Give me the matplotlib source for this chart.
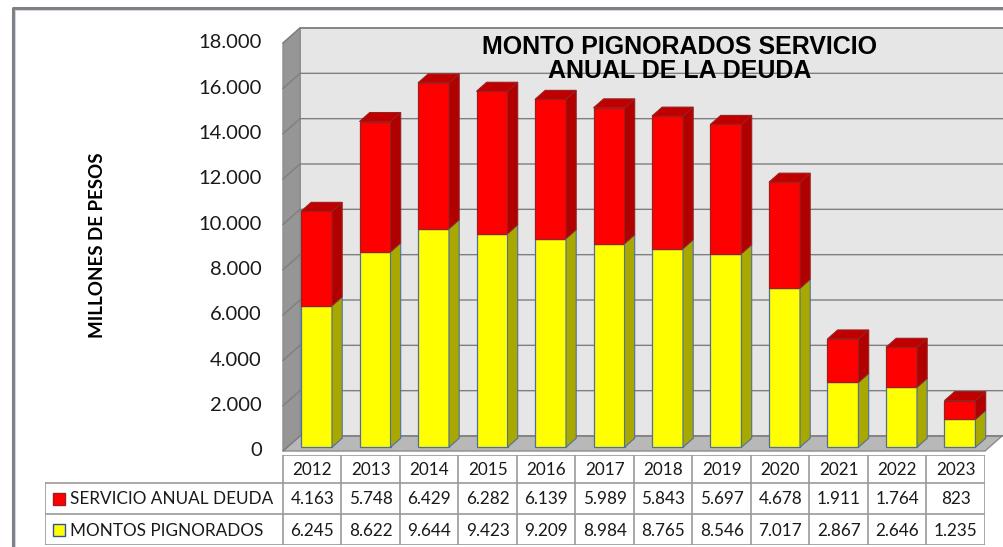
import numpy as np
import matplotlib
matplotlib.use("Agg")
import matplotlib.pyplot as plt
from matplotlib.patches import Polygon
from matplotlib.lines import Line2D

# data
years = ["2012", "2013", "2014", "2015", "2016", "2017",
         "2018", "2019", "2020", "2021", "2022", "2023"]
montos = [6245, 8622, 9644, 9423, 9209, 8984, 8765, 8546, 7017, 2867, 2646, 1235]
servicio = [4163, 5748, 6429, 6282, 6139, 5989, 5843, 5697, 4678, 1911, 1764, 823]
series_names = ["SERVICIO ANUAL DEUDA", "MONTOS PIGNORADOS"]
yticks = np.arange(0, 18001, 2000)

W, H = 1004, 547
fig = plt.figure(figsize=(W / 100, H / 100), dpi=100)
fig.patch.set_facecolor("white")

def thousands(v):
    return f"{v:,}".replace(",", ".")

# chart area frame
fig.add_artist(Line2D([13 / W, 13 / W, 1.0], [0, 1 - 8 / H, 1 - 8 / H],
                      color="#7f7f7f", lw=2.2))
fig.add_artist(Line2D([15 / W, 15 / W, 1.0], [0, 1 - 10 / H, 1 - 10 / H],
                      color="#c9d6ea", lw=0.8))

# main 3d-ish plot area (front plane)
ax = fig.add_axes([283 / W, (H - 451) / H, 702 / W, 408 / H])
ax.set_xlim(-0.5, 11.5)
ax.set_ylim(0, 18000)
ax.axis("off")

n = len(years)
x = np.arange(n)
px_x = 702 / 12          # pixels per category
px_y = 408 / 18000       # pixels per unit
DX = 17 / px_x           # wall depth in data units
DY = 15 / px_y
ymax = 18000
xr = 11.5 + DX + 1.0

# walls and floor
ax.add_patch(Polygon([(-0.5 + DX, DY), (xr, DY), (xr, ymax + DY), (-0.5 + DX, ymax + DY)],
                     closed=True, fc="#e6e6e6", ec="#8c8c8c", lw=1.2, clip_on=False, zorder=1))
ax.add_patch(Polygon([(-0.5, 0), (-0.5 + DX, DY), (-0.5 + DX, ymax + DY), (-0.5, ymax)],
                     closed=True, fc="#969696", ec="#8c8c8c", lw=1.0, clip_on=False, zorder=1))
ax.add_patch(Polygon([(-0.5, 0), (11.5, 0), (11.5 + DX, DY), (-0.5 + DX, DY)],
                     closed=True, fc="#b8b8b8", ec="#8c8c8c", lw=1.0, clip_on=False, zorder=1))

for v in yticks:
    ax.plot([-0.5, -0.5 + DX, xr], [v, v + DY, v + DY], color="#7f7f7f", lw=1.0,
            clip_on=False, zorder=2)
    ax.text(-0.5 - 21 / px_x, v, thousands(int(v)) if v else "0", ha="right", va="center",
            fontsize=14.5, family="Lato", color="#1a1a1a")

# bars
f0, f1 = 0.25, 0.85
w = 31 / px_x
bx = x + f0 * DX
b0 = f0 * DY
sdx, sdy = (f1 - f0) * DX, (f1 - f0) * DY

bot = np.full(n, b0)
ax.bar(bx, montos, width=w, bottom=bot, color="#ffff00", edgecolor="#4f6fa0",
       lw=0.9, zorder=3, clip_on=False)
ax.bar(bx, servicio, width=w, bottom=bot + np.array(montos), color="#ff0000",
       edgecolor="#9a2020", lw=0.9, zorder=3, clip_on=False)

for i in range(n):
    r = bx[i] + w / 2
    l = bx[i] - w / 2
    y1 = b0 + montos[i]
    y2 = y1 + servicio[i]
    ax.add_patch(Polygon([(r, b0), (r + sdx, b0 + sdy), (r + sdx, y1 + sdy), (r, y1)],
                         fc="#a8a800", ec="#4f6fa0", lw=0.8, zorder=3, clip_on=False))
    ax.add_patch(Polygon([(r, y1), (r + sdx, y1 + sdy), (r + sdx, y2 + sdy), (r, y2)],
                         fc="#b00000", ec="#9a2020", lw=0.8, zorder=3, clip_on=False))
    ax.add_patch(Polygon([(l, y2), (l + sdx, y2 + sdy), (r + sdx, y2 + sdy), (r, y2)],
                         fc="#c00000", ec="#9a2020", lw=0.8, zorder=3, clip_on=False))

# title and axis label
fig.text(680 / W, 1 - 59 / H, "MONTO PIGNORADOS SERVICIO\nANUAL DE LA DEUDA",
         ha="center", va="center", fontsize=18, fontweight="bold",
         family="Liberation Sans", linespacing=1.05, color="black")
fig.text(98 / W, 1 - 245 / H, "MILLONES DE PESOS", rotation=90, ha="center",
         va="center", fontsize=13.5, fontweight="bold", family="Lato", color="black")

# data table
LW = 238 / px_x
tab = fig.add_axes([45 / W, (H - 545) / H, (985 - 45) / W, 90 / H])
tab.set_xlim(-LW, 12)
tab.set_ylim(90, 0)
tab.axis("off")
rows = [0, 28, 59, 90]
gc = "#9a9a9a"
tab.plot([0, 12], [rows[0], rows[0]], color=gc, lw=1.2)
for yy in rows[1:]:
    tab.plot([-LW, 12], [yy, yy], color=gc, lw=1.2)
tab.plot([-LW, -LW], [rows[1], rows[3]], color=gc, lw=1.2)
for k in range(13):
    tab.plot([k, k], [rows[0], rows[3]], color=gc, lw=1.2)

tfont = dict(family="Lato", fontsize=12.3, color="#1a1a1a")
for k, yr in enumerate(years):
    tab.text(k + 0.5, (rows[0] + rows[1]) / 2 + 1, yr, ha="center", va="center", **tfont)
    tab.text(k + 0.5, (rows[1] + rows[2]) / 2 + 1, thousands(servicio[k]),
             ha="center", va="center", **tfont)
    tab.text(k + 0.5, (rows[2] + rows[3]) / 2 + 1, thousands(montos[k]),
             ha="center", va="center", **tfont)

keys = [("#ff0000", "#9a2020"), ("#ffff00", "#3050a0")]
for j, name in enumerate(series_names):
    yc = (rows[j + 1] + rows[j + 2]) / 2
    tab.plot([-LW + 14 / px_x], [yc], marker="s", ms=8.5, mfc=keys[j][0],
             mec=keys[j][1], mew=1.0)
    tab.text(-LW + 25 / px_x, yc + 1, name, ha="left", va="center", **tfont)

fig.savefig("out.png", dpi=100)
